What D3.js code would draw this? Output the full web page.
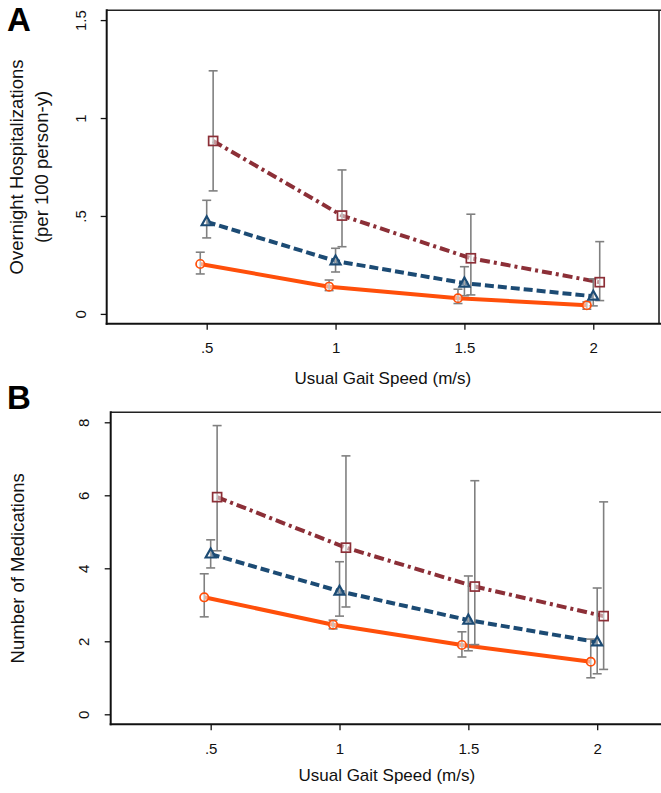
<!DOCTYPE html>
<html>
<head>
<meta charset="utf-8">
<script src="https://cdn.jsdelivr.net/npm/d3@7"></script>
<style>
  html, body { margin: 0; padding: 0; background: #fff; }
  svg { display: block; font-family: "Liberation Sans", Arial, sans-serif; }
</style>
</head>
<body>
<svg id="chart" width="661" height="793"></svg>
<script>
// ---- Data ----
const gaitSpeeds = [0.5, 1, 1.5, 2];
const xTickLabels = [".5", "1", "1.5", "2"];
const seriesNames = ["Group 1", "Group 2", "Group 3"];

// Panel A: overnight hospitalizations (per 100 person-y)
const hospTicks = [0, 0.5, 1, 1.5];
const hospTickLabels = ["0", ".5", "1", "1.5"];
const hospOrangeMean = [0.255, 0.139, 0.080, 0.044];
const hospOrangeLo   = [0.204, 0.119, 0.053, 0.024];
const hospOrangeHi   = [0.315, 0.173, 0.126, 0.061];
const hospBlueMean   = [0.470, 0.270, 0.157, 0.090];
const hospBlueLo     = [0.388, 0.214, 0.093, 0.041];
const hospBlueHi     = [0.580, 0.335, 0.241, 0.179];
const hospRedMean    = [0.883, 0.502, 0.284, 0.162];
const hospRedLo      = [0.628, 0.343, 0.097, 0.068];
const hospRedHi      = [1.241, 0.735, 0.509, 0.369];

// Panel B: number of medications
const medTicks = [0, 2, 4, 6, 8];
const medTickLabels = ["0", "2", "4", "6", "8"];
const medOrangeMean = [3.205, 2.455, 1.90, 1.44];
const medOrangeLo   = [2.67, 2.34, 1.57, 1.00];
const medOrangeHi   = [3.85, 2.58, 2.26, 2.06];
const medBlueMean   = [4.39, 3.37, 2.58, 1.98];
const medBlueLo     = [4.01, 2.69, 1.74, 1.11];
const medBlueHi     = [4.78, 4.18, 3.79, 3.46];
const medRedMean    = [5.95, 4.565, 3.50, 2.69];
const medRedLo      = [4.48, 2.94, 1.91, 1.23];
const medRedHi      = [7.91, 7.08, 6.40, 5.82];

// horizontal offset of each series around the gait speed (x units)
const seriesOffsets = [-0.025, 0, 0.025];

// ---- Styles ----
const styles = [
  { color: "#FF4F0A", dash: null, marker: "circle" },
  { color: "#1C4B74", dash: "9,4", marker: "triangle" },
  { color: "#8C2F37", dash: "10,4,3,4", marker: "square" }
];
const errColor = "#808080";
const FONT = "Liberation Sans, Arial, sans-serif";

const svg = d3.select("#chart");

function drawPanel(cfg) {
  const x = d3.scaleLinear().domain([0.112, 2.255]).range([cfg.left, cfg.right]);
  const y = d3.scaleLinear().domain(cfg.yDomain).range([cfg.bottom, cfg.top]);
  const g = svg.append("g");

  // frame (top & right)
  g.append("line").attr("x1", cfg.left).attr("x2", cfg.right + 2)
    .attr("y1", cfg.top).attr("y2", cfg.top).attr("stroke", "#222").attr("stroke-width", 1.6);
  g.append("line").attr("x1", cfg.right).attr("x2", cfg.right)
    .attr("y1", cfg.top).attr("y2", cfg.bottom).attr("stroke", "#222").attr("stroke-width", 1.6);

  // x axis
  const xAxis = d3.axisBottom(x).tickValues(gaitSpeeds)
    .tickFormat((d, i) => xTickLabels[i]).tickSize(6).tickSizeOuter(0).tickPadding(13);
  const gx = g.append("g").attr("transform", `translate(0,${cfg.bottom})`).call(xAxis);
  gx.select(".domain").attr("stroke", "#111").attr("stroke-width", 2)
    .attr("d", `M${cfg.left - 1},0H${cfg.right + 2}`);
  gx.selectAll(".tick line").attr("stroke", "#111").attr("stroke-width", 1.3);
  gx.selectAll(".tick text").attr("font-size", 15).attr("fill", "#111")
    .attr("font-family", FONT);

  // y axis
  const yAxis = d3.axisLeft(y).tickValues(cfg.yTicks)
    .tickFormat((d, i) => cfg.yTickLabels[i]).tickSize(6).tickSizeOuter(0);
  const gy = g.append("g").attr("transform", `translate(${cfg.left},0)`).call(yAxis);
  gy.select(".domain").attr("stroke", "#111").attr("stroke-width", 2)
    .attr("d", `M0,${cfg.top - 1}V${cfg.bottom + 1}`);
  gy.selectAll(".tick line").attr("stroke", "#111").attr("stroke-width", 1.3);
  gy.selectAll(".tick text")
    .attr("x", null).attr("dy", null)
    .attr("text-anchor", "middle")
    .attr("transform", `translate(${cfg.yLabelX - cfg.left},0) rotate(-90)`)
    .attr("font-size", 15).attr("fill", "#111")
    .attr("font-family", FONT);

  // titles
  g.append("text").attr("x", (cfg.left + cfg.right) / 2).attr("y", cfg.xTitleY)
    .attr("text-anchor", "middle").attr("font-size", 17).attr("fill", "#111")
    .text("Usual Gait Speed (m/s)");
  const yc = (cfg.top + cfg.bottom) / 2;
  cfg.yTitle.forEach((t, i) => {
    g.append("text")
      .attr("transform", `translate(${cfg.yTitleX[i]},${yc}) rotate(-90)`)
      .attr("text-anchor", "middle").attr("font-size", 18.5).attr("fill", "#111")
      .text(t);
  });
  g.append("text").attr("x", 7).attr("y", cfg.letterY)
    .attr("font-size", 33).attr("font-weight", "bold").attr("fill", "#000")
    .attr("font-family", FONT)
    .text(cfg.letter);

  const series = cfg.series;

  // lines
  const line = d3.line().x(d => x(d.x)).y(d => y(d.m));
  series.forEach((s, si) => {
    const pts = gaitSpeeds.map((gs, i) => ({ x: gs + seriesOffsets[si], m: s.mean[i] }));
    const p = g.append("path").datum(pts).attr("d", line)
      .attr("fill", "none").attr("stroke", styles[si].color).attr("stroke-width", 4)
      .attr("stroke-linejoin", "round");
    if (styles[si].dash) p.attr("stroke-dasharray", styles[si].dash);
  });

  // error bars
  series.forEach((s, si) => {
    gaitSpeeds.forEach((gs, i) => {
      const xx = x(gs + seriesOffsets[si]);
      const y1 = y(s.lo[i]), y2 = y(s.hi[i]);
      g.append("line").attr("x1", xx).attr("x2", xx).attr("y1", y1).attr("y2", y2)
        .attr("stroke", errColor).attr("stroke-width", 1.6);
      [y1, y2].forEach(yy => {
        g.append("line").attr("x1", xx - 4.5).attr("x2", xx + 4.5).attr("y1", yy).attr("y2", yy)
          .attr("stroke", errColor).attr("stroke-width", 1.6);
      });
    });
  });

  // markers
  series.forEach((s, si) => {
    gaitSpeeds.forEach((gs, i) => {
      const xx = x(gs + seriesOffsets[si]), yy = y(s.mean[i]);
      const st = styles[si];
      if (st.marker === "circle") {
        g.append("circle").attr("cx", xx).attr("cy", yy).attr("r", 4.2)
          .attr("fill", "#fff").attr("fill-opacity", 0.5).attr("stroke", st.color).attr("stroke-width", 1.7);
      } else if (st.marker === "triangle") {
        const h = 9;
        g.append("path")
          .attr("d", `M${xx},${yy - h * 0.62}L${xx + 5},${yy + h * 0.38}L${xx - 5},${yy + h * 0.38}Z`)
          .attr("fill", "#fff").attr("fill-opacity", 0.3).attr("stroke", st.color).attr("stroke-width", 2.2);
      } else {
        g.append("rect").attr("x", xx - 4.5).attr("y", yy - 4.5).attr("width", 9).attr("height", 9)
          .attr("fill", "#fff").attr("fill-opacity", 0.5).attr("stroke", st.color).attr("stroke-width", 1.7);
      }
    });
  });
}

drawPanel({
  letter: "A", letterY: 31,
  left: 106.7, right: 659, top: 10.3, bottom: 323.7,
  yDomain: [-0.05, 1.55], yTicks: hospTicks, yTickLabels: hospTickLabels,
  yLabelX: 86,
  xTitleY: 384,
  yTitle: ["Overnight Hospitalizations", "(per 100 person-y)"], yTitleX: [23, 48],
  series: [
    { name: seriesNames[0], mean: hospOrangeMean, lo: hospOrangeLo, hi: hospOrangeHi },
    { name: seriesNames[1], mean: hospBlueMean, lo: hospBlueLo, hi: hospBlueHi },
    { name: seriesNames[2], mean: hospRedMean, lo: hospRedLo, hi: hospRedHi }
  ]
});

drawPanel({
  letter: "B", letterY: 409,
  left: 110.7, right: 662.9, top: 412.3, bottom: 724.3,
  yDomain: [-0.274, 8.274], yTicks: medTicks, yTickLabels: medTickLabels,
  yLabelX: 89,
  xTitleY: 781,
  yTitle: ["Number of Medications"], yTitleX: [24],
  series: [
    { name: seriesNames[0], mean: medOrangeMean, lo: medOrangeLo, hi: medOrangeHi },
    { name: seriesNames[1], mean: medBlueMean, lo: medBlueLo, hi: medBlueHi },
    { name: seriesNames[2], mean: medRedMean, lo: medRedLo, hi: medRedHi }
  ]
});
</script>
</body>
</html>
